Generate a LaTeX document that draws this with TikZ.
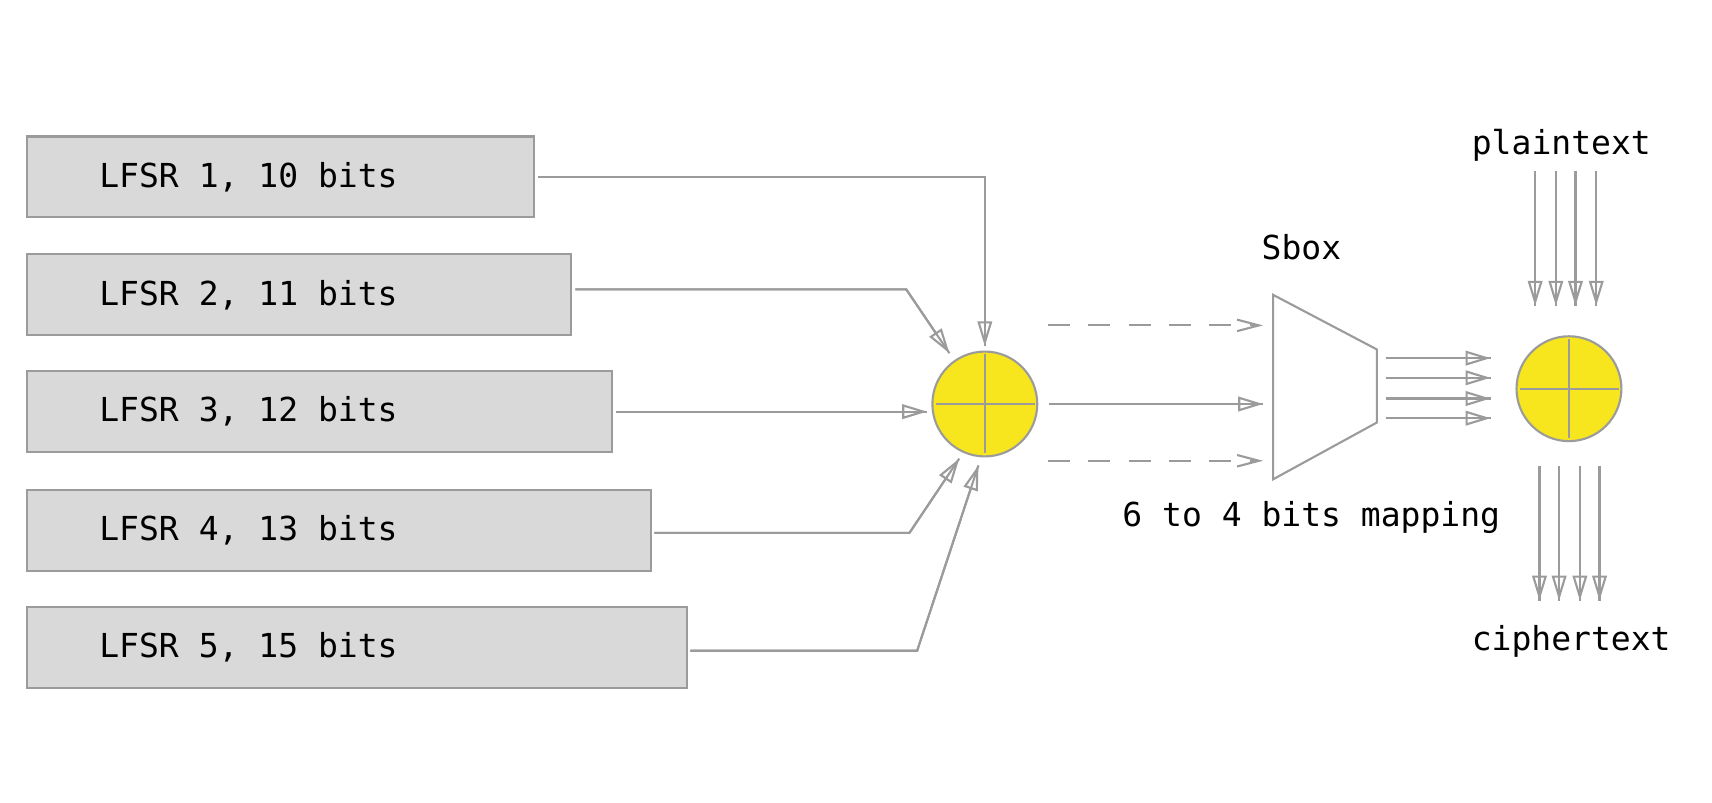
\documentclass[tikz,border=0pt]{standalone}
\usepackage{fontspec}
\setmainfont{DejaVu Sans Mono}[WordSpace={1,0,0}]
\usetikzlibrary{arrows.meta,calc}
\definecolor{linegray}{RGB}{155,155,155}
\definecolor{boxgray}{RGB}{217,217,217}
\definecolor{xoryellow}{RGB}{247,229,30}

\begin{document}
\begin{tikzpicture}[x=0.01cm, y=-0.01cm,
every node/.style={font=\fontsize{8.6}{10}\selectfont\frenchspacing},
lfsr/.style={draw=linegray, fill=boxgray, line width=0.55pt, minimum height=0.74cm, inner xsep=0.66cm, align=left, anchor=west,
  execute at begin node={\spaceskip=0pt\xspaceskip=0pt\relax}},
xor/.style={draw=linegray, fill=xoryellow, line width=0.55pt, circle, minimum size=0.96cm, inner sep=0pt},
wire/.style={draw=linegray, line width=0.55pt},
arr/.style={wire, -{Triangle[open, length=6.5pt, width=3.8pt]}, postaction={draw=linegray, -}},
dasharr/.style={wire, dash pattern=on 5.7pt off 4.8pt, -{Straight Barb[length=5.7pt, width=3pt]}}]
\useasboundingbox (0,0) rectangle (1568,735);
%================================================================
%	Boxes
\node[lfsr, text width=3.32cm] (l1) at (24,162) {LFSR 1, 10 bits};
\node[lfsr, text width=3.66cm] (l2) at (24,270) {LFSR 2, 11 bits};
\node[lfsr, text width=4.03cm] (l3) at (24,377) {LFSR 3, 12 bits};
\node[lfsr, text width=4.39cm] (l4) at (24,486) {LFSR 4, 13 bits};
\node[lfsr, text width=4.72cm] (l5) at (24,593) {LFSR 5, 15 bits};

%----------------------------------------------------------------
\node[xor] (x1) at (902,370) {};
\node[xor] (x2) at (1437,356) {};
\draw[wire, shorten <=0.9pt, shorten >=1.2pt] (x1.north) -- (x1.south);
\draw[wire, shorten <=1.1pt, shorten >=0.9pt] (x1.west) -- (x1.east);
\draw[wire, shorten <=0.9pt, shorten >=1.2pt] (x2.north) -- (x2.south);
\draw[wire, shorten <=1.1pt, shorten >=0.9pt] (x2.west) -- (x2.east);

%----------------------------------------------------------------
\coordinate (sbnw) at (1166,270);
\coordinate (sbne) at (1261,320);
\coordinate (sbse) at (1261,387);
\coordinate (sbsw) at (1166,439);
\draw[wire] (sbnw) -- (sbne) -- (sbse) -- (sbsw) -- cycle;

%================================================================
%	Nodes
\node (sbox) at (1192,226) {Sbox};
\node (map) at (1201,474) {6 to 4 bits mapping};
\node (pt) at (1430,133) {plaintext};
\node (ct) at (1439,587) {ciphertext};

%================================================================
%	Lines
\coordinate (b2) at (830,265);
\coordinate (b4) at (833,488);
\coordinate (b5) at (840,596);
\draw[arr, shorten <=0.6pt, shorten >=1.1pt] (l1.east) -- (l1.east -| x1.north) -- (x1.north);
\draw[arr, shorten <=0.8pt, shorten >=2.2pt] (l2.east |- b2) -- (b2) -- (x1.125);
\draw[arr, shorten <=0.8pt, shorten >=1.1pt] (l3.east) -- (l3.east -| x1.west);
\draw[arr, shorten <=0.6pt, shorten >=1.8pt] (l4.east |- b4) -- (b4) -- (x1.246);
\draw[arr, shorten <=0.6pt, shorten >=2.2pt] (l5.east |- b5) -- (b5) -- (x1.266);

%----------------------------------------------------------------
\coordinate (d1) at (960,298);
\coordinate (d2) at (960,422);
\draw[dasharr, shorten >=2.6pt] (d1) -- (d1 -| sbnw);
\draw[arr, shorten <=2.8pt, shorten >=2.6pt] (x1.east) -- (x1.east -| sbnw);
\draw[dasharr, shorten >=2.6pt] (d2) -- (d2 -| sbnw);

\foreach \dy in {8,26,45,63}{
  \coordinate (o) at ($(sbne)+(8,\dy)$);
  \draw[arr, shorten >=6.5pt] (o) -- (o -| x2.west);
}

%----------------------------------------------------------------
\foreach \dx in {-31,-12,6,25}
  \draw[arr] ($(x2.north)+(\dx,-150)$) -- ($(x2.north)+(\dx,-27)$);
\foreach \dx in {-27,-9,10,28}
  \draw[arr] ($(x2.south)+(\dx,22)$) -- ($(x2.south)+(\dx,145)$);
%================================================================
\end{tikzpicture}
\end{document}
